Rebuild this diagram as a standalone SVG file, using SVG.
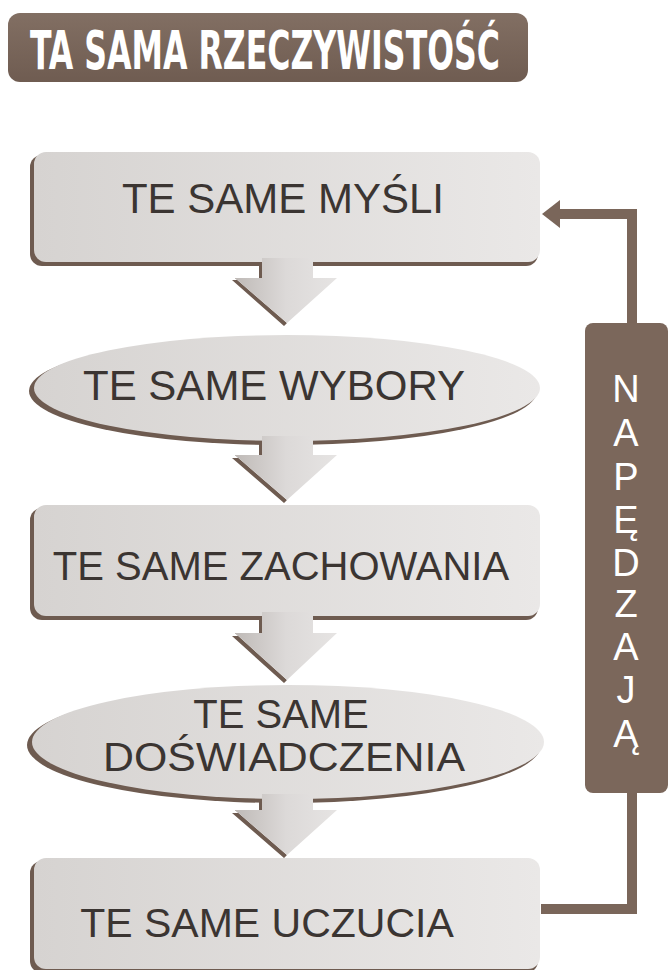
<svg xmlns="http://www.w3.org/2000/svg" width="672" height="970" viewBox="0 0 672 970">
<defs>
<linearGradient id="gBox" x1="0" y1="0" x2="1" y2="0">
<stop offset="0" stop-color="#d6d3d1"/>
<stop offset="1" stop-color="#eae8e7"/>
</linearGradient>
<linearGradient id="gHead" x1="0" y1="0" x2="1" y2="0">
<stop offset="0" stop-color="#bfbab7"/>
<stop offset="0.5" stop-color="#dcd9d8"/>
<stop offset="1" stop-color="#e6e4e3"/>
</linearGradient>
<linearGradient id="gBrown" x1="0" y1="0" x2="0" y2="1">
<stop offset="0" stop-color="#826f63"/>
<stop offset="1" stop-color="#6f5c51"/>
</linearGradient>
<marker id="ah" markerUnits="userSpaceOnUse" markerWidth="18" markerHeight="28" viewBox="0 0 18 28" refX="0" refY="14" orient="auto">
<path d="M0,0 L18,14 L0,28 Z" fill="#7a665a"/>
</marker>
<style>
.shadow{fill:#6e5b50}
.box{fill:url(#gBox)}
.head{fill:url(#gHead)}
.lbl{font-family:"Liberation Sans",Arial,sans-serif;font-size:42px;fill:#3b3532;text-anchor:middle}
.vl{font-family:"Liberation Sans",Arial,sans-serif;font-size:38px;fill:#ffffff;text-anchor:middle}
.title{font-family:"DejaVu Sans Condensed","Liberation Sans",sans-serif;font-weight:bold;font-size:35px;fill:#ffffff}
.link{fill:none;stroke:#7a665a;stroke-width:10}
</style>
</defs>
<rect width="672" height="970" fill="#ffffff"/>

<g id="title">
<rect x="8" y="13" width="520" height="69" rx="12" fill="url(#gBrown)"/>
<text class="title" transform="translate(30,69) scale(1,1.5)" x="0" y="0" textLength="470" lengthAdjust="spacingAndGlyphs">TA SAMA RZECZYWISTOŚĆ</text>
</g>

<g id="node-mysli">
<rect class="shadow" x="30" y="155" width="508" height="111" rx="12"/>
<rect class="box" x="34" y="152" width="506" height="110" rx="12"/>
<text class="lbl" x="283" y="213">TE SAME MYŚLI</text>
</g>

<g id="node-wybory">
<ellipse class="shadow" cx="283" cy="391" rx="254" ry="54"/>
<ellipse class="box" cx="287" cy="388" rx="253" ry="53"/>
<text class="lbl" x="274" y="400">TE SAME WYBORY</text>
</g>

<g id="node-zachowania">
<rect class="shadow" x="30" y="508" width="508" height="112" rx="12"/>
<rect class="box" x="34" y="505" width="506" height="111" rx="12"/>
<text class="lbl" x="281" y="580" style="font-size:40px">TE SAME ZACHOWANIA</text>
</g>

<g id="node-doswiadczenia">
<ellipse class="shadow" cx="284" cy="745" rx="257" ry="58"/>
<ellipse class="box" cx="288" cy="742" rx="256" ry="57"/>
<text class="lbl" x="281" y="728" style="font-size:40px">TE SAME</text>
<text class="lbl" x="284" y="771" style="font-size:40px" textLength="362" lengthAdjust="spacingAndGlyphs">DOŚWIADCZENIA</text>
</g>

<g id="node-uczucia">
<rect class="shadow" x="30" y="861" width="508" height="112" rx="12"/>
<rect class="box" x="34" y="858" width="506" height="111" rx="12"/>
<text class="lbl" x="267" y="937" style="font-size:41px">TE SAME UCZUCIA</text>
</g>

<g id="connectors">
<path class="shadow" d="M259 265 V280 H232 L284 326 L287 323 L235 278 H262 V265 Z"/>
<path class="head" d="M262 258 H313 V278 H337 L287 323 L235 278 H262 Z"/>
<path class="shadow" d="M259 442 V458 H232 L284 503 L287 500 L235 455 H262 V442 Z"/>
<path class="head" d="M262 436 H313 V455 H337 L287 500 L235 455 H262 Z"/>
<path class="shadow" d="M259 619 V636 H232 L284 683 L287 680 L235 633 H262 V619 Z"/>
<path class="head" d="M262 612 H313 V633 H337 L287 680 L235 633 H262 Z"/>
<path class="shadow" d="M259 801 V813 H232 L284 858 L287 855 L235 810 H262 V801 Z"/>
<path class="head" d="M262 794 H313 V810 H337 L287 855 L235 810 H262 Z"/>
<polyline class="link" points="541,909 632,909 632,214 560,214" marker-end="url(#ah)"/>
</g>

<g id="node-napedzaja">
<rect x="585" y="323" width="83" height="470" rx="8" fill="#7b675b"/>
<text class="vl" x="626" y="402">N</text>
<text class="vl" x="626" y="446">A</text>
<text class="vl" x="626" y="490">P</text>
<text class="vl" x="626" y="533">Ę</text>
<text class="vl" x="626" y="576">D</text>
<text class="vl" x="626" y="617">Z</text>
<text class="vl" x="626" y="660">A</text>
<text class="vl" x="626" y="703">J</text>
<text class="vl" x="626" y="747">Ą</text>
</g>
</svg>
